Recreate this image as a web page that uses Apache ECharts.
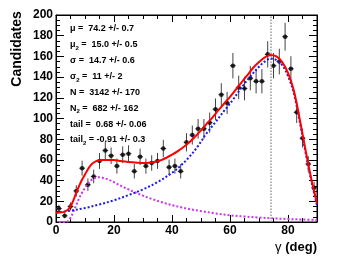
<!DOCTYPE html>
<html>
<head>
<meta charset="utf-8">
<script src="https://cdn.jsdelivr.net/npm/echarts@6/dist/echarts.min.js"></script>
<style>html,body{margin:0;padding:0;background:#fff}#c{width:353px;height:265px}</style>
</head>
<body>
<div id="c"></div>
<script>
// ---- data ----
const binCenters = [1,3,5,7,9,11,13,15,17,19,21,23,25,27,29,31,33,35,37,39,41,43,45,47,49,51,53,55,57,59,61,63,65,67,69,71,73,75,77,79,81,83,85,87,89];
const counts = [13,6,15,30,52,36,44,59,69,64,54,65,66,49,63,54,57,59,71,53,54,49,77,84,90,90,96,109,123,115,151,130,129,139,136,136,162,151,155,179,148,106,81,56,33];
const countErr = [3.6,2.4,3.9,5.5,7.2,6,6.6,7.7,8.3,8,7.3,8.1,8.1,7,7.9,7.3,7.5,7.7,8.4,7.3,7.3,7,8.8,9.2,9.5,9.5,9.8,10.4,11.1,10.7,12.3,11.4,11.4,11.8,11.7,11.7,12.7,12.3,12.4,13.4,12.2,10.3,9,7.5,5.7];
const binHalfWidth = 1;

const totalX = [0,2,3,4,5,6,7,8,9,10,11,12,13,14,16,18,20,22,25,28,30,32,34,36,38,40,42,44,46,48,50,52,54,56,58,60,62,64,66,68,70,72,74,76,78,80,82,84,86,88,89,90];
const totalY = [9,9.3,10,11.5,15,21,28.5,35,41,46,51,55,57.5,59,60,60,59.8,59,58,57.3,57,57.2,58,59.5,62,65,68.5,72.5,77,82.5,88.5,95,101,108,114.5,121,128,135,142,149,154.5,159,161.4,160,154.5,144,127,100,70,42,30,18];

const sigX = [0,5,10,15,20,25,30,35,40,43,46,49,52,55,58,61,64,67,70,72,74,76,78,80,82,84,86,88,90];
const sigY = [9,11,13.5,17,21,26,31.5,38.5,47.5,54.5,63,73.5,86,96.5,107.5,118,130,140.5,150,155,158,156.5,151.5,141,124.5,97.5,68,40,16];

const bkgX = [1,3,4,5,6,7,8,9,10,11,12,13,14,15,16,18,20,22,25,27,30,33,36,40,43,46,50,55,60,65,70,75,80,85,90];
const bkgY = [0,0,0.5,4,10,16.5,23,28.5,33,37,40,42,43,43.2,42.8,41,38.5,35.5,31.5,29,25.5,22.3,19.5,16.3,14.3,12.5,10.5,8.3,6.5,5.3,4.3,3.5,2.9,2.4,2];

const muValue = 74.2;

const xTickLabels = ['0','20','40','60','80'];
const yTickLabels = ['0','20','40','60','80','100','120','140','160','180','200'];

const fitLabels = [
  ['μ', '', ' =  74.2 +/- 0.7'],
  ['μ', '2', ' =  15.0 +/- 0.5'],
  ['σ', '', ' =  14.7 +/- 0.6'],
  ['σ', '2', ' =  11 +/- 2'],
  ['N', '', ' =  3142 +/- 170'],
  ['N', '2', ' =  682 +/- 162'],
  ['tail', '', ' =  0.68 +/- 0.06'],
  ['tail', '2', ' = -0.91 +/- 0.3']
];
const yTitle = 'Candidates';
const xTitleSym = 'γ';
const xTitleRest = ' (deg)';

// ---- chart ----
const FONT = "'Liberation Sans', Arial, Helvetica, sans-serif";
const zip = (a, b) => a.map((v, i) => [v, b[i]]);
const chart = echarts.init(document.getElementById('c'), null, {renderer: 'canvas'});

function xAx(pos, interval, len, labels, line) {
  return {
    type: 'value', min: 0, max: 90, interval: interval, position: pos,
    axisLine: {show: line, onZero: false, lineStyle: {color: '#000', width: 1}},
    axisTick: {show: true, inside: true, length: len, lineStyle: {color: '#000', width: 1}},
    axisLabel: {show: labels, margin: 3, fontFamily: FONT, fontWeight: 'bold', fontSize: 12, color: '#000',
      showMaxLabel: false,
      formatter: v => (xTickLabels.indexOf(String(v)) >= 0 ? String(v) : '')},
    splitLine: {show: false}
  };
}
function yAx(pos, interval, len, labels, line) {
  return {
    type: 'value', min: 0, max: 200, interval: interval, position: pos,
    axisLine: {show: line, onZero: false, lineStyle: {color: '#000', width: 1}},
    axisTick: {show: true, inside: true, length: len, lineStyle: {color: '#000', width: 1}},
    axisLabel: {show: labels, margin: 3, fontFamily: FONT, fontWeight: 'bold', fontSize: 12, color: '#000',
      formatter: v => (yTickLabels.indexOf(String(v)) >= 0 ? String(v) : '')},
    splitLine: {show: false}
  };
}

const graphics = [];
fitLabels.forEach((f, i) => {
  graphics.push({
    type: 'text', x: 70, y: 28.5 + i * 15.85, z: 100,
    style: {
      text: '{m|' + f[0] + '}' + (f[1] ? '{s|' + f[1] + '}' : '') + '{m|' + f[2] + '}',
      verticalAlign: 'middle', align: 'left',
      rich: {
        m: {fontFamily: FONT, fontWeight: 'bold', fontSize: 9, lineHeight: 10, fill: '#000', verticalAlign: 'bottom'},
        s: {fontFamily: FONT, fontWeight: 'bold', fontSize: 6, lineHeight: 6, fill: '#000', verticalAlign: 'bottom', padding: [0,0,-2,0]}
      }
    }
  });
});
graphics.push({
  type: 'text', x: 17, y: 49, rotation: Math.PI / 2,
  style: {text: yTitle, font: "bold 14px " + FONT, fill: '#000', align: 'center', verticalAlign: 'middle'}
});
graphics.push({
  type: 'text', x: 317, y: 247,
  style: {
    text: '{g|' + xTitleSym + '}{b|' + xTitleRest + '}', align: 'right', verticalAlign: 'middle',
    rich: {
      g: {fontFamily: FONT, fontSize: 13, fill: '#000'},
      b: {fontFamily: FONT, fontWeight: 'bold', fontSize: 13, fill: '#000'}
    }
  }
});

const option = {
  animation: false,
  backgroundColor: '#fff',
  grid: {left: 56, right: 36, top: 15, bottom: 43, show: true, borderColor: '#000', borderWidth: 1, backgroundColor: 'transparent'},
  xAxis: [
    xAx('bottom', 20, 7, true, true),
    xAx('bottom', 5, 4, false, false),
    xAx('top', 20, 7, false, true),
    xAx('top', 5, 4, false, false)
  ],
  yAxis: [
    yAx('left', 20, 8, true, true),
    yAx('left', 5, 4, false, false),
    yAx('right', 20, 8, false, true),
    yAx('right', 5, 4, false, false)
  ],
  graphic: graphics,
  series: [
    {
      type: 'custom', xAxisIndex: 0, yAxisIndex: 0, z: 2,
      data: binCenters.map((x, i) => [x, counts[i], countErr[i]]),
      encode: {x: 0, y: 1},
      renderItem: function (params, api) {
        const x = api.value(0), y = api.value(1), e = api.value(2);
        const c = api.coord([x, y]);
        const lo = api.coord([x, y - e]);
        const hi = api.coord([x, y + e]);
        const l = api.coord([x - binHalfWidth, y]);
        const r = api.coord([x + binHalfWidth, y]);
        const st = {stroke: '#444', lineWidth: 1};
        return {type: 'group', children: [
          {type: 'line', shape: {x1: c[0], y1: lo[1], x2: c[0], y2: hi[1]}, style: st},
          {type: 'line', shape: {x1: l[0], y1: c[1], x2: r[0], y2: c[1]}, style: st}
        ]};
      }
    },
    {
      type: 'scatter', xAxisIndex: 0, yAxisIndex: 0, z: 3,
      data: zip(binCenters, counts), symbol: 'circle', symbolSize: 4.5,
      itemStyle: {color: '#000'}
    },
    {
      type: 'line', xAxisIndex: 0, yAxisIndex: 0, z: 4,
      data: zip(bkgX, bkgY), showSymbol: false, smooth: 0.35,
      lineStyle: {color: '#cc33ee', width: 2, type: 'dotted'}
    },
    {
      type: 'line', xAxisIndex: 0, yAxisIndex: 0, z: 5,
      data: zip(sigX, sigY), showSymbol: false, smooth: 0.35,
      lineStyle: {color: '#1a1aee', width: 2, type: 'dotted'},
      markLine: {
        silent: true, symbol: 'none', label: {show: false},
        lineStyle: {color: '#999', width: 1.5, type: 'dotted'},
        data: [{xAxis: muValue}]
      }
    },
    {
      type: 'line', xAxisIndex: 0, yAxisIndex: 0, z: 6,
      data: zip(totalX, totalY), showSymbol: false, smooth: 0.35,
      lineStyle: {color: '#ff0000', width: 2}
    }
  ]
};
chart.setOption(option);
</script>
</body>
</html>
